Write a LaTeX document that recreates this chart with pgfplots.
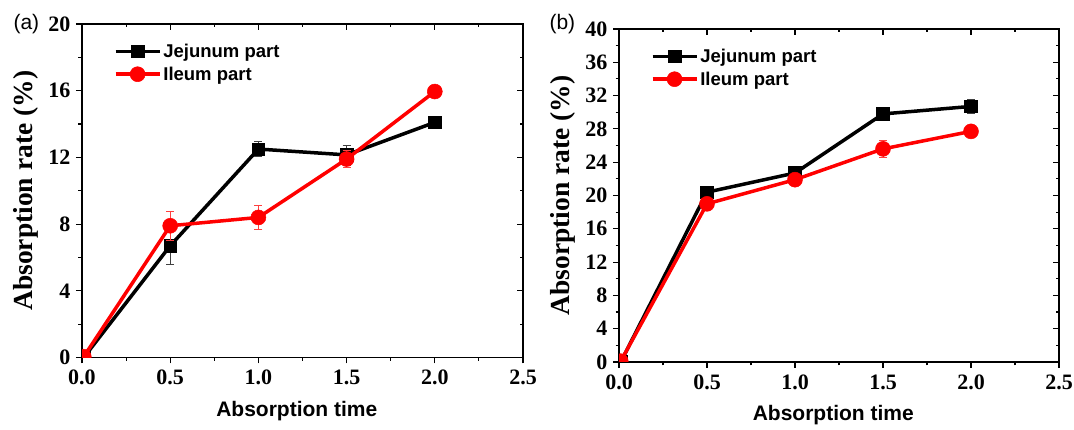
\documentclass[border=0pt]{standalone}
\usepackage{fontspec}
\setmainfont{Liberation Serif}
\newfontfamily\arialf{Liberation Sans}
\usepackage{pgfplots}
\pgfplotsset{compat=1.18}
\pgfplotsset{
  frame/.style={scale only axis,xmin=0,xmax=2.5,xtick={0,0.5,1,1.5,2,2.5},
    minor x tick num=1,minor y tick num=1,
    axis line style={line width=1.3pt},major tick length=6pt,minor tick length=3.5pt,
    every tick/.style={line width=1.1pt,black}},
  panel/.style={frame,tick align=outside,tick pos=left,clip marker paths=true,
    /pgf/number format/assume math mode=true,
    tick label style={font=\fontsize{22}{25}\selectfont\bfseries},
    xticklabel style={yshift=-3pt,/pgf/number format/fixed,/pgf/number format/fixed zerofill,/pgf/number format/precision=1},
    yticklabel style={xshift=-2pt,/pgf/number format/fixed},
    xlabel={Absorption time},ylabel={Absorption rate (\%)},
    xlabel style={at={(axis description cs:0.487,-0.16)},anchor=center,
      font=\arialf\bfseries\fontsize{21}{24}\selectfont},
    ylabel style={at={(axis description cs:-0.128,0.5)},anchor=center,
      font=\bfseries\fontsize{27.5}{30}\selectfont},
    legend style={draw=none,fill=none,font=\arialf\bfseries\fontsize{18.5}{21}\selectfont,
      at={(0.065,0.953)},anchor=north west,row sep=4pt},
    legend cell align=left,
    legend image code/.code={\draw[mark repeat=2,mark phase=2] plot coordinates {(0pt,0pt)(22pt,0pt)(44pt,0pt)};}},
  mirror/.style={frame,tick align=inside,tick pos=right,xticklabels={},yticklabels={}},
  jej/.style={black,line width=3.5pt,mark=square*,mark size=6.3pt,mark options={solid,line width=0.5pt},
    error bars/.cd,y dir=both,y explicit,
    error bar style={line width=0.7pt,black!75},error mark options={rotate=90,mark size=4pt,line width=0.7pt,black!75}},
  ile/.style={red,line width=3.5pt,mark=*,mark size=7.5pt,mark options={solid,line width=0.5pt},
    error bars/.cd,y dir=both,y explicit,
    error bar style={line width=0.7pt,red!75},error mark options={rotate=90,mark size=4pt,line width=0.7pt,red!75}}
}
\begin{document}
\begin{tikzpicture}
\useasboundingbox (0pt,0pt) rectangle (1074pt,430pt);
% (a)
\begin{axis}[mirror,at={(82pt,72.5pt)},anchor=south west,width=441pt,height=333.5pt,
  ymin=0,ymax=20,ytick={0,4,8,12,16,20}]
\end{axis}
\begin{axis}[panel,at={(82pt,72.5pt)},anchor=south west,width=441pt,height=333.5pt,
  ymin=0,ymax=20,ytick={0,4,8,12,16,20}]
\addplot[jej] coordinates {(0.01,0) +- (0,0) (0.5,6.7) +- (0,1.1) (1.0,12.5) +- (0,0.45) (1.5,12.15) +- (0,0.6) (2.0,14.1) +- (0,0.25)};
\addplot[ile] coordinates {(0.01,0.05) +- (0,0) (0.5,7.9) +- (0,0.85) (1.0,8.4) +- (0,0.7) (1.5,11.9) +- (0,0.5) (2.0,15.95) +- (0,0.35)};
\legend{Jejunum part,Ileum part}
\end{axis}
% (b)
\begin{axis}[mirror,at={(619pt,68pt)},anchor=south west,width=440pt,height=333pt,
  ymin=0,ymax=40,ytick={0,4,...,40}]
\end{axis}
\begin{axis}[panel,at={(619pt,68pt)},anchor=south west,width=440pt,height=333pt,
  ymin=0,ymax=40,ytick={0,4,...,40}]
\addplot[jej] coordinates {(0.01,0) +- (0,0) (0.5,20.4) +- (0,0.3) (1.0,22.7) +- (0,0.3) (1.5,29.8) +- (0,0.3) (2.0,30.7) +- (0,0.8)};
\addplot[ile] coordinates {(0.01,0.1) +- (0,0) (0.5,19.0) +- (0,0.3) (1.0,21.9) +- (0,0.3) (1.5,25.6) +- (0,1.0) (2.0,27.7) +- (0,0.3)};
\legend{Jejunum part,Ileum part}
\end{axis}
\node[anchor=west,font=\arialf\fontsize{21}{24}\selectfont] at (10pt,406pt) {(a)};
\node[anchor=west,font=\arialf\fontsize{21}{24}\selectfont] at (546pt,406pt) {(b)};
\end{tikzpicture}
\end{document}
